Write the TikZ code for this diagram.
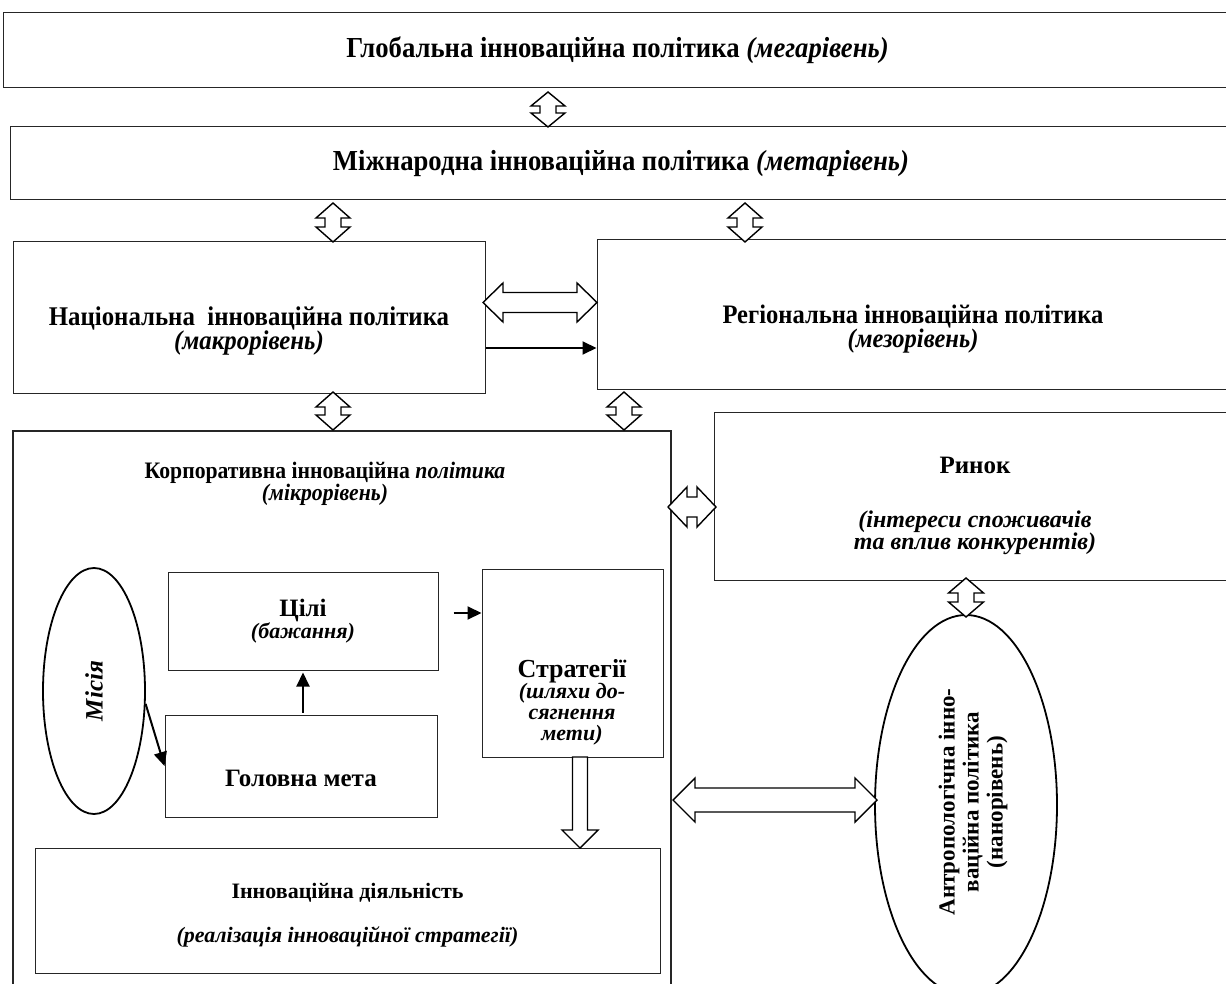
\documentclass[tikz,border=0pt]{standalone}
\usepackage{fontspec}
\setmainfont{Liberation Serif}
\newfontfamily\narrowfont{Liberation Serif}[FakeStretch=0.92]
\usetikzlibrary{shapes.geometric,arrows.meta}

\begin{document}
\begin{tikzpicture}[x=1pt, y=-1pt,
box/.style ={draw=black!85, line width=1pt, rectangle, inner sep=0pt, align=center},
ttl/.style ={font=\narrowfont\fontsize{29}{19}\selectfont\bfseries, align=center},
txt/.style ={font=\fontsize{25}{21}\selectfont\bfseries, align=center},
oval/.style ={draw, ellipse, line width=1.8pt, inner sep=0pt},
hollow/.style ={draw, fill=white, line width=1.4pt, miter limit=4},
pics/dblarr/.style args={#1/#2/#3/#4}{code={
  \path[hollow] ({-#1/2},0) -- ({-#1/2+#4},#2) -- ({-#1/2+#4},#3) -- ({#1/2-#4},#3)
    -- ({#1/2-#4},#2) -- ({#1/2},0) -- ({#1/2-#4},-#2) -- ({#1/2-#4},-#3)
    -- ({-#1/2+#4},-#3) -- ({-#1/2+#4},-#2) -- cycle;}},
pics/sglarr/.style args={#1/#2/#3/#4}{code={
  \path[hollow] ({-#1/2},#3) -- ({#1/2-#4},#3) -- ({#1/2-#4},#2) -- ({#1/2},0)
    -- ({#1/2-#4},-#2) -- ({#1/2-#4},-#3) -- ({-#1/2},-#3) -- cycle;}},
arr/.style ={-{Triangle[length=14pt,width=13pt]}, line width=2pt}]
\useasboundingbox (0,0) rectangle (1226,984);

% levels of policy
\node[box, ttl, minimum width=1229pt, minimum height=75pt] (glob) at (617.5,50.5)
  {Глобальна інноваційна політика \textit{(мегарівень)}};
\node[box, ttl, minimum width=1222pt, minimum height=73pt] (intl) at (621,163.5)
  {Міжнародна інноваційна політика \textit{(метарівень)}};
\node[box, minimum width=472pt, minimum height=151pt] (nat) at (249,317.5) {};
\node[ttl, font=\narrowfont\fontsize{27}{19}\selectfont\bfseries] (natTxt) at (249,331)
  {Національна~ інноваційна політика\\\textit{(макрорівень)}};
\node[box, minimum width=632pt, minimum height=149pt] (reg) at (913,314.5) {};
\node[ttl, font=\narrowfont\fontsize{26.7}{19}\selectfont\bfseries] (regTxt) at (913,329)
  {Регіональна інноваційна політика\\\textit{(мезорівень)}};
\node[box, line width=2pt, minimum width=658pt, minimum height=559pt] (corp) at (342,710.5) {};
\node[ttl, font=\narrowfont\fontsize{23.6}{19}\selectfont\bfseries] (corpTxt) at (325,484)
  {Корпоративна інноваційна \textit{політика}\\\textit{(мікрорівень)}};
\node[box, minimum width=518pt, minimum height=168pt] (market) at (973,496) {};
\node[txt, font=\fontsize{24}{21}\selectfont\bfseries] (marketTxt) at (975,506)
  {{\fontsize{25}{21}\selectfont Ринок}\\[33pt]\textit{(інтереси споживачів}\\\textit{та вплив конкурентів)}};
\node[oval, rotate=90, minimum width=380pt, minimum height=182pt] (anthro) at (966,805) {};
\node[txt, rotate=90, font=\fontsize{23}{24}\selectfont\bfseries] (anthroTxt) at (973,802)
  {Антропологічна інно-\\ваційна політика\\(нанорівень)};

% inside the corporate level
\node[oval, txt, rotate=90, minimum width=246pt, minimum height=102pt] (mis) at (94,691)
  {\textit{Місія}};
\node[box, txt, minimum width=270pt, minimum height=98pt] (goals) at (303,621)
  {Цілі\\{\fontsize{22}{20}\selectfont\textit{(бажання)}}};
\node[box, minimum width=272pt, minimum height=102pt] (mainGoal) at (301,766) {};
\node[txt] (mainTxt) at (301,778) {Головна мета};
\node[box, minimum width=181pt, minimum height=188pt] (strat) at (572.5,663) {};
\node[txt, font=\fontsize{26}{21}\selectfont\bfseries] (stratTxt) at (572,702)
  {Стратегії\\{\fontsize{22}{19}\selectfont\textit{(шляхи до-}}\\
   {\fontsize{22}{19}\selectfont\textit{сягнення}}\\{\fontsize{22}{19}\selectfont\textit{мети)}}};
\node[box, minimum width=625pt, minimum height=125pt] (act) at (347.5,910.5) {};
\node[txt, font=\fontsize{22}{20}\selectfont\bfseries] (actTxt) at (347.5,915)
  {Інноваційна діяльність\\[24pt]\textit{(реалізація інноваційної стратегії)}};

% hollow arrows
\pic[rotate=90] (a1) at (548,109.5) {dblarr=35/17/8/14};
\pic[rotate=90] (a2) at (333,222.5) {dblarr=39/17/8/15};
\pic[rotate=90] (a3) at (745,222.5) {dblarr=39/17/8/15};
\pic[rotate=90] (a4) at (333,411) {dblarr=38/17/8/15};
\pic[rotate=90] (a5) at (624,411) {dblarr=38/17/8/15};
\pic[rotate=90] (a9) at (966,597.5) {dblarr=39/17.5/8/15};
\pic (a6) at (540,302.5) {dblarr=114/19.5/10/20};
\pic (a7) at (692,507) {dblarr=48/20/10/19};
\pic (a8) at (775,800) {dblarr=204/22/12/22};
\pic[rotate=-90] (a10) at (580,802.5) {sglarr=91/18/7.5/18};

% solid arrows
\draw[arr] ([yshift=-30.5pt]nat.east) coordinate (n1) -- (n1 -| reg.west);
\draw[arr] ([xshift=15pt,yshift=8pt]goals.east) coordinate (g1) -- (g1 -| strat.west);
\coordinate (m1) at (goals.south |- mainGoal.north);
\draw[arr] ([yshift=2pt]m1) -- ([yshift=-2pt]goals.south);
\draw[arr] (mis.-104) -- (mainGoal.west);
\end{tikzpicture}
\end{document}
